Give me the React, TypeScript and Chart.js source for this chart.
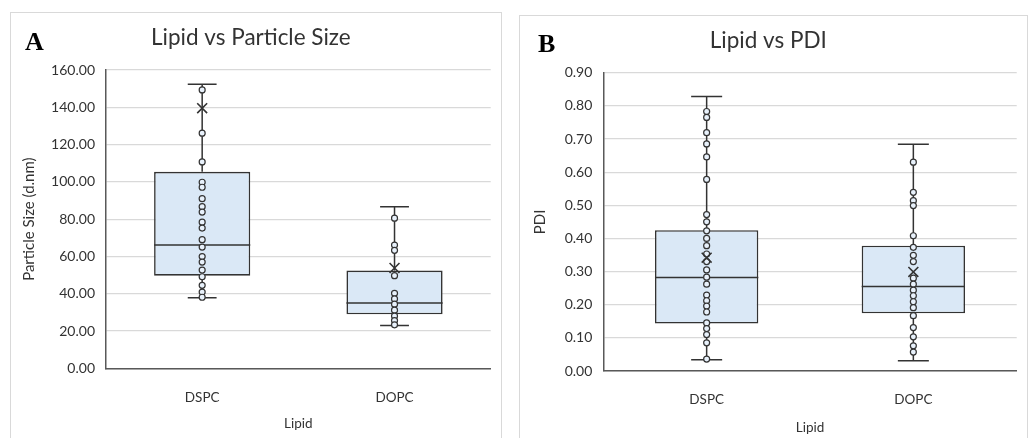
import React, { useEffect, useRef } from "react";
import { Chart, registerables } from "chart.js";

Chart.register(...registerables);

// ---------- data ----------
const categories = ["DSPC", "DOPC"];

// Panel A: Particle size (d.nm)
const sizeDSPCPoints = [149.3, 126.1, 110.7, 99.8, 97.1, 91.0, 86.7, 83.8, 78.4, 75.2, 69.0, 65.0, 59.9, 57.0, 52.7, 49.1, 44.5, 40.9, 38.1];
const sizeDOPCPoints = [80.5, 66.1, 63.3, 49.7, 40.2, 37.2, 34.4, 31.2, 28.0, 25.6, 23.3];
const sizeMin = [37.8, 22.9];
const sizeQ1 = [49.7, 29.0];
const sizeMedian = [66.1, 35.0];
const sizeQ3 = [105.4, 52.4];
const sizeMax = [152.4, 86.7];
const sizeMean = [139.5, 53.8];
const sizeTicks = { min: 0, max: 160, step: 20 };

// Panel B: PDI
const pdiDSPCPoints = [0.783, 0.765, 0.719, 0.685, 0.646, 0.578, 0.472, 0.45, 0.423, 0.4, 0.378, 0.353, 0.33, 0.305, 0.283, 0.262, 0.229, 0.212, 0.196, 0.178, 0.145, 0.128, 0.11, 0.085, 0.036];
const pdiDOPCPoints = [0.63, 0.539, 0.514, 0.499, 0.408, 0.373, 0.349, 0.33, 0.28, 0.262, 0.244, 0.227, 0.209, 0.191, 0.167, 0.131, 0.103, 0.076, 0.057];
const pdiMin = [0.034, 0.031];
const pdiQ1 = [0.143, 0.174];
const pdiMedian = [0.282, 0.255];
const pdiQ3 = [0.425, 0.378];
const pdiMax = [0.828, 0.684];
const pdiMean = [0.342, 0.299];
const pdiTicks = { min: 0, max: 0.9, step: 0.1 };

// ---------- styles ----------
const FONT = "Lato, 'Open Sans', sans-serif";
const TEXT = "#333333";
const EDGE = "#333333";
const BOX_FILL = "rgb(218,232,246)";
const PT_FILL = "rgb(232,241,251)";
const GRID = "#d9d9d9";

const boxWhiskerPlugin = {
  id: "boxWhisker",
  afterDatasetDraw(chart: any, args: any, opts: any) {
    if (args.index !== 0) return;
    const ctx = chart.ctx;
    const y = chart.scales.y;
    const meta = chart.getDatasetMeta(0);
    ctx.save();
    ctx.strokeStyle = EDGE;
    ctx.lineWidth = 1.5;
    meta.data.forEach((bar: any, i: number) => {
      const cx = bar.x;
      const w = bar.width;
      const yMin = y.getPixelForValue(opts.min[i]);
      const yMax = y.getPixelForValue(opts.max[i]);
      const yQ1 = y.getPixelForValue(opts.q1[i]);
      const yQ3 = y.getPixelForValue(opts.q3[i]);
      const yMed = y.getPixelForValue(opts.median[i]);
      const cap = w * 0.3;
      ctx.beginPath();
      ctx.moveTo(cx, yQ3);
      ctx.lineTo(cx, yMax);
      ctx.moveTo(cx - cap / 2, yMax);
      ctx.lineTo(cx + cap / 2, yMax);
      ctx.moveTo(cx, yQ1);
      ctx.lineTo(cx, yMin);
      ctx.moveTo(cx - cap / 2, yMin);
      ctx.lineTo(cx + cap / 2, yMin);
      ctx.moveTo(cx - w / 2, yMed);
      ctx.lineTo(cx + w / 2, yMed);
      ctx.stroke();
    });
    ctx.restore();
  },
};

type Panel = {
  title: string;
  yTitle: string;
  points: number[][];
  min: number[];
  q1: number[];
  median: number[];
  q3: number[];
  max: number[];
  mean: number[];
  ticks: { min: number; max: number; step: number };
  width: number;
  height: number;
  yWidth: number;
  xHeight: number;
  padRight: number;
  titleBottom: number;
  yTitlePad: number;
  yTickPad: number;
  xTitlePad: number;
};

function makeConfig(p: Panel): any {
  const pts: { x: string; y: number }[] = [];
  p.points.forEach((arr, i) => arr.forEach((v) => pts.push({ x: categories[i], y: v })));
  const means = p.mean.map((v, i) => ({ x: categories[i], y: v }));
  return {
    type: "bar",
    data: {
      labels: categories,
      datasets: [
        {
          type: "bar",
          data: p.q1.map((q, i) => [q, p.q3[i]]),
          backgroundColor: BOX_FILL,
          borderColor: EDGE,
          borderWidth: 1.6,
          borderSkipped: false,
          barPercentage: 0.5,
          categoryPercentage: 1,
          order: 3,
        },
        {
          type: "line",
          data: pts,
          showLine: false,
          pointStyle: "circle",
          pointRadius: 3,
          pointBackgroundColor: PT_FILL,
          pointBorderColor: EDGE,
          pointBorderWidth: 1.2,
          order: 2,
        },
        {
          type: "line",
          data: means,
          showLine: false,
          pointStyle: "crossRot",
          pointRadius: 7,
          pointBorderColor: EDGE,
          pointBorderWidth: 1.6,
          order: 1,
        },
      ],
    },
    options: {
      animation: false,
      responsive: false,
      devicePixelRatio: 1,
      layout: { padding: { left: 0, right: p.padRight, top: 0, bottom: 0 } },
      plugins: {
        legend: { display: false },
        tooltip: { enabled: false },
        title: {
          display: true,
          text: p.title,
          color: TEXT,
          font: { family: FONT, size: 22.5, weight: "normal" },
          padding: { top: 11.5, bottom: p.titleBottom },
        },
        boxWhisker: { min: p.min, q1: p.q1, median: p.median, q3: p.q3, max: p.max },
      },
      scales: {
        x: {
          type: "category",
          grid: { display: false },
          border: { display: true, color: "#595959", width: 1.5 },
          ticks: { color: TEXT, font: { family: FONT, size: 13.5 }, padding: 13 },
          title: {
            display: true,
            text: "Lipid",
            color: TEXT,
            font: { family: FONT, size: 13.5 },
            padding: { top: 0, bottom: p.xTitlePad },
          },
          afterFit: (s: any) => {
            s.height = p.xHeight;
          },
        },
        y: {
          min: p.ticks.min,
          max: p.ticks.max,
          ticks: {
            stepSize: p.ticks.step,
            callback: (v: any) => Number(v).toFixed(2),
            color: TEXT,
            font: { family: FONT, size: 14 },
            padding: p.yTickPad,
          },
          grid: { color: GRID, lineWidth: 1.2, drawTicks: false },
          border: { display: true, color: "#595959", width: 1.5 },
          title: {
            display: true,
            text: p.yTitle,
            color: TEXT,
            font: { family: FONT, size: 15 },
            padding: { top: p.yTitlePad, bottom: 0 },
          },
          afterFit: (s: any) => {
            s.width = p.yWidth;
          },
        },
      },
    },
    plugins: [boxWhiskerPlugin],
  };
}

const panelA: Panel = {
  title: "Lipid vs Particle Size",
  yTitle: "Particle Size (d.nm)",
  points: [sizeDSPCPoints, sizeDOPCPoints],
  min: sizeMin,
  q1: sizeQ1,
  median: sizeMedian,
  q3: sizeQ3,
  max: sizeMax,
  mean: sizeMean,
  ticks: sizeTicks,
  width: 490,
  height: 425,
  yWidth: 95,
  xHeight: 69.7,
  padRight: 10.3,
  titleBottom: 18.5,
  yTitlePad: 9,
  yTickPad: 11,
  xTitlePad: 6,
};

const panelB: Panel = {
  title: "Lipid vs PDI",
  yTitle: "PDI",
  points: [pdiDSPCPoints, pdiDOPCPoints],
  min: pdiMin,
  q1: pdiQ1,
  median: pdiMedian,
  q3: pdiQ3,
  max: pdiMax,
  mean: pdiMean,
  ticks: pdiTicks,
  width: 507,
  height: 422,
  yWidth: 83.3,
  xHeight: 67,
  padRight: 10.3,
  titleBottom: 18.2,
  yTitlePad: 11,
  yTickPad: 11,
  xTitlePad: 2,
};

function ChartPanel({ panel }: { panel: Panel }) {
  const ref = useRef<HTMLCanvasElement | null>(null);
  useEffect(() => {
    if (!ref.current) return;
    const chart = new Chart(ref.current, makeConfig(panel));
    return () => chart.destroy();
  }, [panel]);
  return <canvas ref={ref} width={panel.width} height={panel.height} style={{ display: "block" }} />;
}

const letterStyle: React.CSSProperties = {
  position: "absolute",
  fontFamily: "'Liberation Serif', 'Times New Roman', serif",
  fontWeight: "bold",
  fontSize: 26,
  lineHeight: "26px",
  color: "#000",
};

export default function App() {
  return (
    <div style={{ position: "fixed", left: 0, top: 0, width: 1035, height: 438, background: "#fff", overflow: "hidden" }}>
      <div style={{ position: "absolute", left: 10, top: 12, width: 490, height: 440, border: "1px solid #d9d9d9" }}>
        <ChartPanel panel={panelA} />
        <div style={{ ...letterStyle, left: 14, top: 16 }}>A</div>
      </div>
      <div style={{ position: "absolute", left: 519, top: 15, width: 507, height: 440, border: "1px solid #d9d9d9" }}>
        <ChartPanel panel={panelB} />
        <div style={{ ...letterStyle, left: 18, top: 15 }}>B</div>
      </div>
    </div>
  );
}
